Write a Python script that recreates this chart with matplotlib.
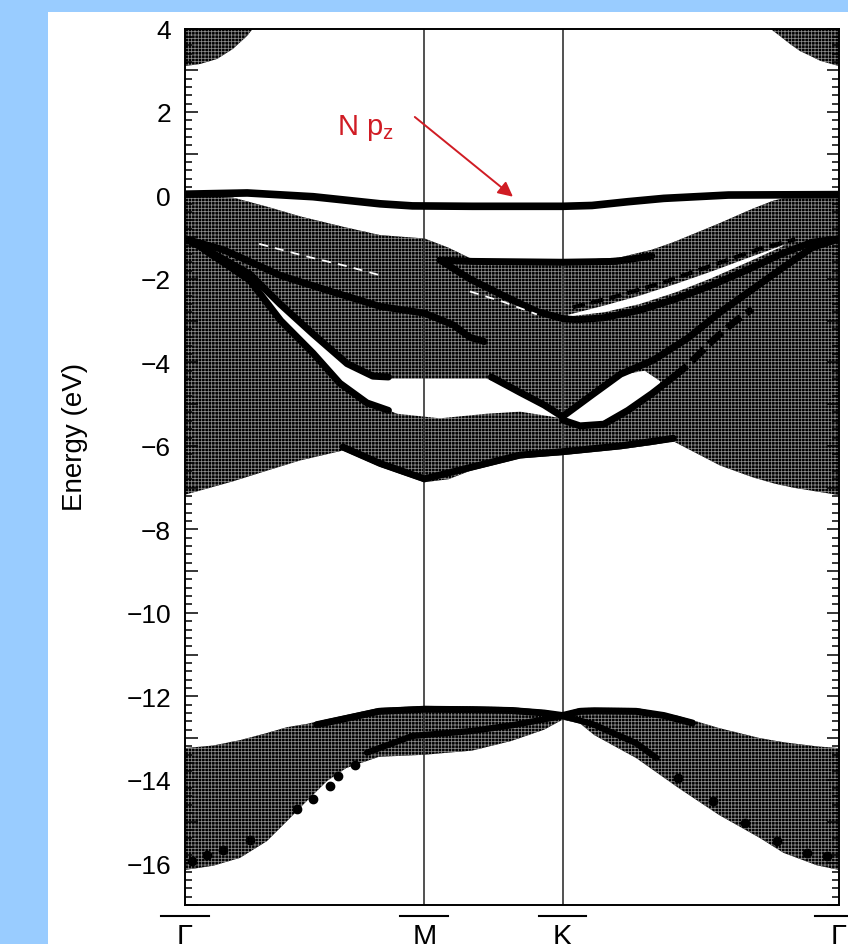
import matplotlib
matplotlib.use("Agg")
import matplotlib.pyplot as plt
import matplotlib.transforms as mtransforms
from matplotlib.patches import Rectangle
from matplotlib.ticker import MultipleLocator, FuncFormatter

plt.rcParams['font.family'] = ['Liberation Sans', 'DejaVu Sans']
plt.rcParams['mathtext.fontset'] = 'custom'
plt.rcParams['mathtext.rm'] = 'Liberation Sans'
plt.rcParams['hatch.linewidth'] = 0.55

# high-symmetry path (k in units of |Gamma-M|)
kpath_pos = [0.0, 1.0, 1.577, 2.732]
kpath_labels = ['Γ', 'M', 'K', 'Γ']

# projected bulk continua
cond_left_k = [0.0, 0.063, 0.134, 0.2, 0.259, 0.284]
cond_left_lo = [3.10, 3.15, 3.27, 3.51, 3.82, 4.0]
cond_right_k = [2.444, 2.485, 2.527, 2.569, 2.61, 2.652, 2.694, 2.732]
cond_right_lo = [4.0, 3.82, 3.63, 3.46, 3.35, 3.23, 3.16, 3.10]

val_k = [0.0, 0.2, 0.35, 0.48, 0.66, 0.815, 1.0, 1.1, 1.19, 1.40, 1.577,
         1.82, 1.95, 2.04, 2.235, 2.37, 2.46, 2.54, 2.732]
val_top = [0.0, -0.05, -0.28, -0.5, -0.75, -0.95, -1.03, -1.25, -1.5, -1.57, -1.58,
           -1.48, -1.3, -1.12, -0.66, -0.32, -0.12, -0.02, 0.0]
val_bot = [-7.17, -6.85, -6.58, -6.35, -6.11, -6.5, -6.87, -6.8, -6.6, -6.3, -6.22,
           -6.08, -5.98, -5.89, -6.47, -6.75, -6.9, -7.0, -7.18]

low_k = [0.0, 0.117, 0.23, 0.342, 0.426, 0.51, 0.593, 0.673, 0.81, 1.0, 1.20,
         1.363, 1.50, 1.577, 1.65, 1.71, 1.885, 2.06, 2.23, 2.40, 2.50, 2.64, 2.732]
low_top = [-13.24, -13.18, -13.05, -12.88, -12.74, -12.66, -12.55, -12.45, -12.28, -12.23, -12.24,
           -12.26, -12.33, -12.40, -12.28, -12.27, -12.28, -12.47, -12.76, -13.0, -13.1, -13.2, -13.24]
low_bot = [-16.16, -16.06, -15.87, -15.47, -14.99, -14.5, -14.03, -13.72, -13.45, -13.40, -13.3,
           -13.07, -12.8, -12.56, -12.65, -12.93, -13.48, -14.19, -14.84, -15.39, -15.75, -16.05, -16.16]

# gaps inside the valence continuum
gapA_k = [0.27, 0.397, 0.535, 0.677, 0.785, 0.886, 1.065, 1.26, 1.40, 1.577]
gapA_hi = [-1.92, -2.64, -3.36, -4.07, -4.39, -4.39, -4.39, -4.39, -4.70, -5.27]
gapA_lo = [-1.99, -2.95, -3.74, -4.62, -4.99, -5.23, -5.34, -5.23, -5.18, -5.34]

gapB_k = [1.59, 1.65, 1.72, 1.82, 1.92, 1.985]
gapB_hi = [-5.28, -5.0, -4.65, -4.3, -4.2, -4.45]
gapB_lo = [-5.40, -5.50, -5.48, -5.20, -4.85, -4.50]

crescent_k = [1.60, 1.75, 1.90, 2.05, 2.20, 2.35, 2.50]
crescent_hi = [-2.86, -2.64, -2.40, -2.12, -1.82, -1.50, -1.19]
crescent_lo = [-2.90, -2.80, -2.60, -2.32, -1.98, -1.60, -1.21]

gapK_k = [1.545, 1.577, 1.61]
gapK_hi = [-12.43, -12.42, -12.43]
gapK_lo = [-12.49, -12.53, -12.49]

# surface-localised bands
npz_k = [0.0, 0.26, 0.535, 0.815, 0.95, 1.2, 1.577, 1.70, 1.85, 2.0, 2.27, 2.732]
npz_e = [0.03, 0.06, -0.03, -0.2, -0.25, -0.26, -0.26, -0.24, -0.15, -0.07, 0.01, 0.02]

sa_k = [0.0, 0.16, 0.40, 0.61, 0.815, 1.0, 1.12, 1.19, 1.25]
sa_e = [-1.04, -1.30, -1.92, -2.30, -2.66, -2.82, -3.10, -3.40, -3.50]

sb_k = [0.0, 0.12, 0.27, 0.397, 0.535, 0.677, 0.785, 0.85]
sb_e = [-1.04, -1.40, -1.88, -2.60, -3.32, -4.03, -4.33, -4.35]

sc_k = [1.28, 1.40, 1.50, 1.577]
sc_e = [-4.35, -4.72, -5.02, -5.30]

sd_k = [0.08, 0.27, 0.40, 0.535, 0.647, 0.76, 0.85]
sd_e = [-1.30, -2.03, -3.0, -3.78, -4.50, -4.97, -5.15]

sflat_k = [1.065, 1.2, 1.577, 1.8, 1.95]
sflat_e = [-1.55, -1.58, -1.60, -1.58, -1.45]

sv_k = [1.065, 1.19, 1.33, 1.47, 1.577, 1.64, 1.75, 1.90, 2.05, 2.20, 2.35, 2.50, 2.62, 2.732]
sv_e = [-1.55, -2.0, -2.4, -2.78, -2.95, -2.98, -2.93, -2.75, -2.48, -2.15, -1.78, -1.38, -1.12, -1.04]

sup_k = [1.62, 1.8, 2.0, 2.2, 2.4, 2.55]
sup_e = [-2.68, -2.42, -2.08, -1.68, -1.28, -1.05]

sk_k = [1.577, 1.70, 1.82, 1.955, 2.10, 2.235, 2.37, 2.51, 2.62, 2.732]
sk_e = [-5.30, -4.78, -4.28, -3.95, -3.42, -2.80, -2.25, -1.68, -1.25, -1.04]

sl_k = [1.577, 1.65, 1.75, 1.85, 1.95, 2.04]
sl_e = [-5.38, -5.52, -5.48, -5.15, -4.75, -4.35]
sl2_k = [2.04, 2.10, 2.2, 2.29, 2.37]
sl2_e = [-4.35, -4.07, -3.5, -3.05, -2.72]

sbot_k = [0.66, 0.815, 1.0, 1.19, 1.40, 1.577, 1.82, 2.04]
sbot_e = [-6.03, -6.42, -6.79, -6.52, -6.22, -6.14, -6.0, -5.82]

ltop_k = [0.55, 0.673, 0.81, 1.0, 1.20, 1.363, 1.50, 1.577]
ltop_e = [-12.68, -12.53, -12.36, -12.31, -12.32, -12.34, -12.40, -12.46]
ltop2_k = [1.577, 1.65, 1.71, 1.885, 2.0, 2.12]
ltop2_e = [-12.46, -12.36, -12.35, -12.36, -12.46, -12.64]

lm_k = [0.76, 0.95, 1.2, 1.37, 1.577]
lm_e = [-13.35, -12.95, -12.83, -12.69, -12.47]
lr_k = [1.577, 1.70, 1.78, 1.884, 1.97]
lr_e = [-12.47, -12.66, -12.86, -13.12, -13.48]

dots_k = [0.03, 0.092, 0.159, 0.27, 0.468, 0.535, 0.606, 0.639, 0.71,
          2.06, 2.205, 2.34, 2.473, 2.6, 2.68]
dots_e = [-15.95, -15.8, -15.68, -15.44, -14.7, -14.45, -14.15, -13.92, -13.65,
          -13.96, -14.5, -15.03, -15.47, -15.75, -15.83]

# white dashed trace inside the continuum
wd_k = [0.31, 0.5, 0.68, 0.82]
wd_e = [-1.16, -1.45, -1.7, -1.92]
wd2_k = [1.19, 1.33, 1.47]
wd2_e = [-2.3, -2.55, -2.85]

fig = plt.figure(figsize=(8.48, 9.45), dpi=100)
fig.patch.set_facecolor('#99ccff')
fig.add_artist(Rectangle((48 / 848, 0), 800 / 848, 932 / 945,
                         transform=fig.transFigure, facecolor='white',
                         edgecolor='none', zorder=-1))
ax = fig.add_axes([185 / 848, 1 - 906 / 945, 654 / 848, 876.5 / 945])


def continuum(k, lo, hi):
    ax.fill_between(k, lo, hi, facecolor='#000000', edgecolor='#8c8c8c',
                    hatch='+++++', linewidth=0, zorder=1)


def gap(k, lo, hi):
    ax.fill_between(k, lo, hi, facecolor='white', linewidth=0, zorder=2)


def band(k, e, lw=5.0, ls='-'):
    ax.plot(k, e, color='black', lw=lw, ls=ls, solid_capstyle='round',
            zorder=4)


continuum(cond_left_k, cond_left_lo, [4.0] * len(cond_left_k))
continuum(cond_right_k, cond_right_lo, [4.0] * len(cond_right_k))
continuum(val_k, val_bot, val_top)
continuum(low_k, low_bot, low_top)

gap(gapA_k, gapA_lo, gapA_hi)
gap(gapB_k, gapB_lo, gapB_hi)
gap(crescent_k, crescent_lo, crescent_hi)
gap(gapK_k, gapK_lo, gapK_hi)

for x in kpath_pos[1:3]:
    ax.axvline(x, color='#333333', lw=1.2, zorder=3)

band(npz_k, npz_e, lw=5.5)
band(sa_k, sa_e)
band(sb_k, sb_e)
band(sc_k, sc_e)
band(sd_k, sd_e)
band(sflat_k, sflat_e)
band(sv_k, sv_e)
band(sup_k, sup_e, lw=3.0, ls=(0, (3, 1.5)))
band(sk_k, sk_e)
band(sl_k, sl_e)
band(sl2_k, sl2_e, ls=(0, (2.5, 1)))
band(sbot_k, sbot_e)
band(ltop_k, ltop_e)
band(ltop2_k, ltop2_e)
band(lm_k, lm_e, lw=4.5)
band(lr_k, lr_e, lw=4.5)
ax.plot(dots_k, dots_e, 'o', color='black', ms=6, zorder=4)

ax.plot(wd_k, wd_e, color='white', lw=1.3, ls=(0, (5, 4)), zorder=5)
ax.plot(wd2_k, wd2_e, color='white', lw=1.3, ls=(0, (5, 4)), zorder=5)

# N pz annotation
ax.annotate('', xy=(1.37, -0.03), xytext=(0.96, 1.88),
            arrowprops=dict(arrowstyle='-|>', color='#d01c24', lw=1.4,
                            mutation_scale=22, shrinkA=0, shrinkB=0),
            zorder=6)
ax.text(0.635, 1.47, r'N p$_\mathregular{z}$', color='#d01c24', fontsize=21,
        ha='left', va='baseline', zorder=6)

ax.set_xlim(0, kpath_pos[-1])
ax.set_ylim(-17, 4)

ax.yaxis.set_major_locator(MultipleLocator(1))
ax.yaxis.set_minor_locator(MultipleLocator(0.2))
ax.yaxis.set_major_formatter(FuncFormatter(
    lambda v, p: str(int(round(v))).replace('-', '\u2212') if int(round(v)) % 2 == 0 else ''))
ax.tick_params(axis='y', which='both', direction='in', left=True, right=True,
               labelsize=19, pad=10, width=1.1)
ax.tick_params(axis='y', which='major', length=9)
ax.tick_params(axis='y', which='minor', length=5)

ax.set_xticks(kpath_pos)
ax.set_xticklabels(kpath_labels, fontsize=21)
ax.tick_params(axis='x', length=0, pad=12)

# bars over the high-symmetry labels
bar_tr = mtransforms.blended_transform_factory(ax.transData, ax.transAxes)
for x in kpath_pos:
    ax.plot([x - 0.1, x + 0.1], [-0.0125, -0.0125], color='black', lw=1.5,
            transform=bar_tr, clip_on=False)

ax.set_ylabel('Energy (eV)', fontsize=20)
ax.yaxis.set_label_coords(-0.148, 0.535)

for s in ax.spines.values():
    s.set_linewidth(1.4)
    s.set_zorder(7)

fig.savefig('out.png', dpi=100, facecolor=fig.get_facecolor())
